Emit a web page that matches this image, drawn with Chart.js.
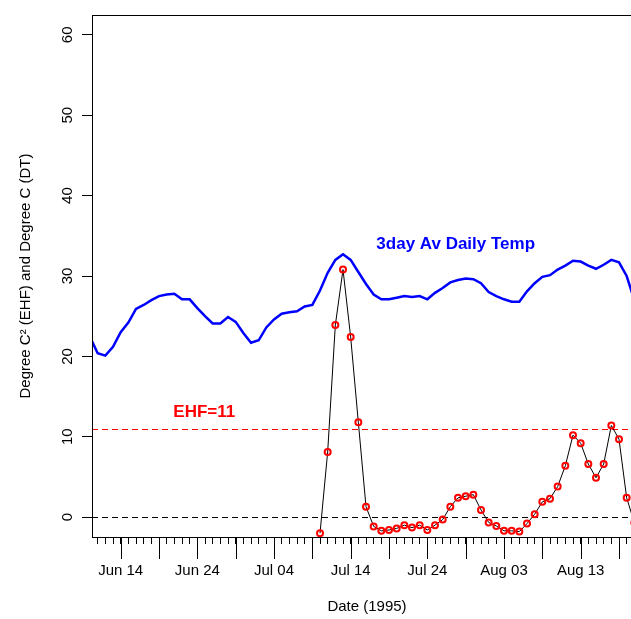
<!DOCTYPE html>
<html>
<head>
<meta charset="utf-8">
<script src="https://cdn.jsdelivr.net/npm/chart.js@4/dist/chart.umd.min.js"></script>
<style>
  html, body { margin: 0; padding: 0; background: #fff; overflow: hidden; }
  canvas { display: block; }
</style>
</head>
<body>
<canvas id="myChart" width="660" height="619"></canvas>
<script>
// day numbers count from Jun 14 1995 (day 0)
const tempStartDay = -4;
const avgTemp = [22.4, 20.4, 20.1, 21.2, 23.0, 24.2, 25.9, 26.4, 27.0, 27.5,
                 27.7, 27.8, 27.1, 27.1, 26.0, 25.0, 24.1, 24.1, 24.9, 24.3,
                 22.9, 21.7, 22.0, 23.6, 24.6, 25.3, 25.5, 25.6, 26.2, 26.4,
                 28.2, 30.4, 32.0, 32.7, 32.0, 30.5, 29.0, 27.7, 27.1, 27.1,
                 27.3, 27.5, 27.4, 27.5, 27.1, 27.9, 28.5, 29.2, 29.5, 29.7,
                 29.6, 29.1, 28.0, 27.5, 27.1, 26.8, 26.8, 28.1, 29.1, 29.9,
                 30.1, 30.8, 31.3, 31.9, 31.8, 31.3, 30.9, 31.4, 32.0, 31.7,
                 30.0, 27.0];

const ehfStartDay = 26;   // Jul 10
const ehf = [-2.0, 8.1, 23.9, 30.8, 22.4, 11.8, 1.3, -1.15, -1.7, -1.6,
             -1.4, -1.0, -1.3, -1.0, -1.6, -1.0, -0.3, 1.3, 2.4, 2.6,
             2.8, 0.9, -0.66, -1.1, -1.7, -1.7, -1.8, -0.8, 0.37, 1.9,
             2.3, 3.8, 6.4, 10.2, 9.2, 6.6, 4.9, 6.6, 11.4, 9.7,
             2.4, -0.7];

const tickDays = [0, 10, 20, 30, 40, 50, 60];
const tickLabels = ['Jun 14', 'Jun 24', 'Jul 04', 'Jul 14', 'Jul 24', 'Aug 03', 'Aug 13'];
const ehfThreshold = 11;

Chart.defaults.font.family = "'Liberation Sans', Arial, sans-serif";
Chart.defaults.color = '#000';

const extras = {
  id: 'extras',
  beforeDatasetsDraw(chart) {
    const {ctx, chartArea: a, scales: {y}} = chart;
    ctx.save();
    ctx.lineWidth = 1;
    ctx.setLineDash([6, 4]);
    [[ehfThreshold, '#ff0000'], [0, '#000']].forEach(([v, c]) => {
      const py = Math.round(y.getPixelForValue(v)) + 0.5;
      ctx.strokeStyle = c;
      ctx.beginPath();
      ctx.moveTo(a.left, py);
      ctx.lineTo(a.right, py);
      ctx.stroke();
    });
    ctx.restore();
  },
  afterDraw(chart) {
    const {ctx, chartArea: a, scales: {x, y}} = chart;
    ctx.save();
    ctx.strokeStyle = '#000';
    ctx.lineWidth = 1;
    ctx.strokeRect(a.left + 0.5, a.top + 0.5, a.right - a.left, a.bottom - a.top);
    // longer ticks every 5 days
    ctx.beginPath();
    for (let d = Math.ceil(x.min); d <= x.max; d++) {
      if (d % 5 !== 0) continue;
      const px = Math.round(x.getPixelForValue(d)) + 0.5;
      ctx.moveTo(px, a.bottom);
      ctx.lineTo(px, a.bottom + 22);
    }
    ctx.stroke();

    ctx.textAlign = 'center';
    ctx.textBaseline = 'middle';
    ctx.font = "bold 17px 'Liberation Sans', Arial, sans-serif";
    ctx.fillStyle = '#0000ff';
    ctx.fillText('3day Av Daily Temp', x.getPixelForValue(43.7), y.getPixelForValue(34.0));
    ctx.fillStyle = '#ff0000';
    ctx.fillText('EHF=11', x.getPixelForValue(10.9), y.getPixelForValue(13.1));
    ctx.restore();
  }
};

const ctx = document.getElementById('myChart').getContext('2d');

new Chart(ctx, {
  type: 'line',
  data: {
    datasets: [
      {
        data: avgTemp.map((v, i) => ({x: tempStartDay + i, y: v})),
        borderColor: '#0000ff',
        borderWidth: 2.5,
        pointRadius: 0,
        tension: 0
      },
      {
        data: ehf.map((v, i) => ({x: ehfStartDay + i, y: v})),
        borderColor: '#000',
        borderWidth: 1,
        pointRadius: 3,
        pointBorderWidth: 2,
        pointBorderColor: '#ff0000',
        pointBackgroundColor: 'rgba(0,0,0,0)',
        tension: 0
      }
    ]
  },
  options: {
    responsive: false,
    animation: false,
    layout: { padding: { top: 12, right: 0, left: 0, bottom: 0 } },
    plugins: {
      legend: { display: false },
      tooltip: { enabled: false }
    },
    scales: {
      x: {
        type: 'linear',
        min: -3.74,
        max: 68,
        border: { display: false },
        grid: { drawOnChartArea: false, drawTicks: true, tickLength: 7, color: '#000' },
        ticks: {
          stepSize: 1,
          includeBounds: false,
          autoSkip: false,
          maxRotation: 0,
          padding: 18,
          font: { size: 15 },
          color: '#000',
          callback: (v) => {
            const k = tickDays.indexOf(v);
            return k >= 0 ? tickLabels[k] : '';
          }
        },
        title: {
          display: true,
          text: 'Date (1995)',
          font: { size: 15 },
          color: '#000',
          padding: { top: 0, bottom: 3 }
        },
        afterFit(s) { s.height = 82; }
      },
      y: {
        min: -2.47,
        max: 62.47,
        border: { display: false },
        grid: { drawOnChartArea: false, drawTicks: true, tickLength: 10, color: '#000' },
        ticks: {
          stepSize: 10,
          includeBounds: false,
          minRotation: 90,
          maxRotation: 90,
          crossAlign: 'center',
          padding: 6,
          font: { size: 15 },
          color: '#000'
        },
        title: {
          display: true,
          text: 'Degree C² (EHF) and Degree C (DT)',
          font: { size: 15 },
          color: '#000',
          padding: { top: 17, bottom: 0 }
        },
        afterFit(s) { s.width = 92; }
      }
    }
  },
  plugins: [extras]
});
</script>
</body>
</html>
